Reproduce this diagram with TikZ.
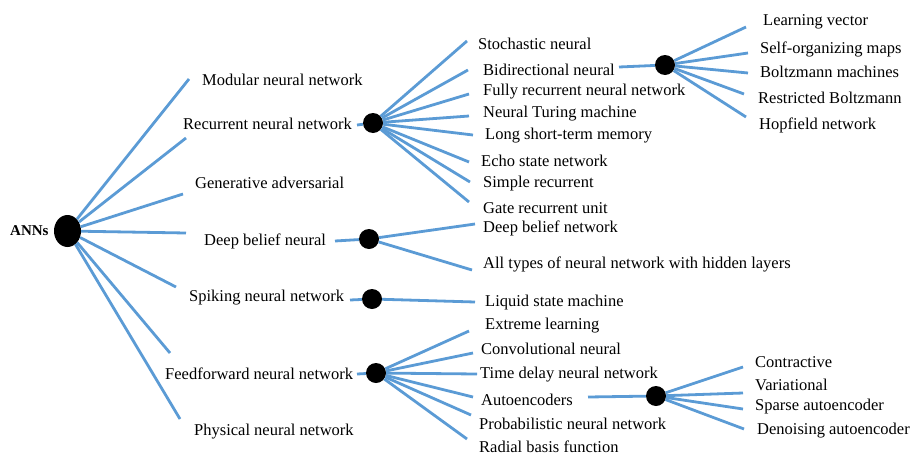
\documentclass[tikz,border=0pt]{standalone}
\usepackage{fontspec}
\setmainfont{Liberation Serif}
\usetikzlibrary{shapes.geometric}
\definecolor{lblue}{RGB}{91,155,213}
\begin{document}
\begin{tikzpicture}[x=1pt,y=-1pt,
  link/.style={draw=lblue, line width=2.8pt},
  dot/.style={circle, fill=black, minimum size=20pt, inner sep=0pt},
  lbl/.style={anchor=west, inner sep=0pt, font=\fontsize{16.5}{18}\selectfont}]
\useasboundingbox (0,0) rectangle (912,455);
% root
\node[ellipse, fill=black, minimum width=27pt, minimum height=32pt, inner sep=0pt] (root) at (67.5,231) {};
\node[anchor=west, inner sep=0pt, font=\fontsize{15}{17}\selectfont\bfseries] (anns) at (10,231) {ANNs};
% first level labels
\node[lbl] (mod) at (202,80) {Modular neural network};
\node[lbl] (rnn) at (183,124) {Recurrent neural network};
\node[lbl] (gan) at (195,183) {Generative adversarial};
\node[lbl] (dbn) at (204,241) {Deep belief neural};
\node[lbl] (snn) at (189,298) {Spiking neural network};
\node[lbl] (ffn) at (165,374) {Feedforward neural network};
\node[lbl] (phy) at (194,432) {Physical neural network};
% root line ends
\coordinate (r1) at (189,79);
\coordinate (r2) at (186,138);
\coordinate (r3) at (183,194);
\coordinate (r4) at (186,233);
\coordinate (r5) at (176,287);
\coordinate (r6) at (170,353);
\coordinate (r7) at (180,419);
\foreach \i in {1,...,7} \draw[link] (root) -- (r\i);
% second level dots
\node[dot] (drnn) at (373,123) {};
\node[dot] (ddbn) at (369,239) {};
\node[dot] (dsnn) at (372,299) {};
\node[dot] (dffn) at (376,373) {};
\coordinate (srnn) at (357,125);
\coordinate (sdbn) at (335,241);
\coordinate (ssnn) at (350,300);
\coordinate (sffn) at (357,374);
\draw[link] (srnn) -- (drnn);
\draw[link] (sdbn) -- (ddbn);
\draw[link] (ssnn) -- (dsnn);
\draw[link] (sffn) -- (dffn);
% RNN children
\node[lbl] (sto) at (478,44) {Stochastic neural};
\node[lbl] (bid) at (483,70) {Bidirectional neural};
\node[lbl] (ful) at (483,92) {Fully recurrent neural network};
\node[lbl] (ntm) at (483,114) {Neural Turing machine};
\node[lbl] (lst) at (485,136) {Long short-term memory};
\node[lbl] (ech) at (481,161) {Echo state network};
\node[lbl] (sim) at (483,184) {Simple recurrent};
\node[lbl] (gru) at (483,208) {Gate recurrent unit};
\coordinate (a1) at (467,41);
\coordinate (a2) at (468,70);
\coordinate (a3) at (469,94);
\coordinate (a4) at (469,116);
\coordinate (a5) at (473,135);
\coordinate (a6) at (469,162);
\coordinate (a7) at (470,182);
\coordinate (a8) at (469,202);
\foreach \i in {1,...,8} \draw[link] (drnn) -- (a\i);
% Bidirectional sub-branch
\node[dot] (dbid) at (665,65) {};
\coordinate (sbid) at (619,67);
\draw[link] (sbid) -- (dbid);
\node[lbl] (lvq) at (763,22) {Learning vector};
\node[lbl] (som) at (760,49) {Self-organizing maps};
\node[lbl] (bol) at (760,72) {Boltzmann machines};
\node[lbl] (rbm) at (758,98) {Restricted Boltzmann};
\node[lbl] (hop) at (759,125) {Hopfield network};
\coordinate (b1) at (746,27);
\coordinate (b2) at (748,53);
\coordinate (b3) at (748,73);
\coordinate (b4) at (744,94);
\coordinate (b5) at (746,117);
\foreach \i in {1,...,5} \draw[link] (dbid) -- (b\i);
% DBN children
\node[lbl] (dbnet) at (483,228) {Deep belief network};
\node[lbl] (allt) at (483,264) {All types of neural network with hidden layers};
\coordinate (c1) at (475,224);
\coordinate (c2) at (472,270);
\draw[link] (ddbn) -- (c1);
\draw[link] (ddbn) -- (c2);
% Spiking child
\node[lbl] (lsm) at (485,303) {Liquid state machine};
\coordinate (c3) at (475,302);
\draw[link] (dsnn) -- (c3);
% FF children
\node[lbl] (elm) at (485,326) {Extreme learning};
\node[lbl] (cnn) at (481,349) {Convolutional neural};
\node[lbl] (tdn) at (480,375) {Time delay neural network};
\node[lbl] (aen) at (481,400) {Autoencoders};
\node[lbl] (pnn) at (479,424) {Probabilistic neural network};
\node[lbl] (rbf) at (479,447) {Radial basis function};
\coordinate (f1) at (469,331);
\coordinate (f2) at (473,353);
\coordinate (f3) at (477,374);
\coordinate (f4) at (473,397);
\coordinate (f5) at (471,415);
\coordinate (f6) at (467,439);
\foreach \i in {1,...,6} \draw[link] (dffn) -- (f\i);
% Autoencoder sub-branch
\node[dot] (daen) at (656,396) {};
\coordinate (saen) at (588,397);
\draw[link] (saen) -- (daen);
\node[lbl] (con) at (755,362) {Contractive};
\node[lbl] (var) at (755,385) {Variational};
\node[lbl] (spa) at (755,407) {Sparse autoencoder};
\node[lbl] (den) at (757,431) {Denoising autoencoder};
\coordinate (g1) at (743,367);
\coordinate (g2) at (743,393);
\coordinate (g3) at (743,409);
\coordinate (g4) at (744,429);
\foreach \i in {1,...,4} \draw[link] (daen) -- (g\i);
\end{tikzpicture}
\end{document}
